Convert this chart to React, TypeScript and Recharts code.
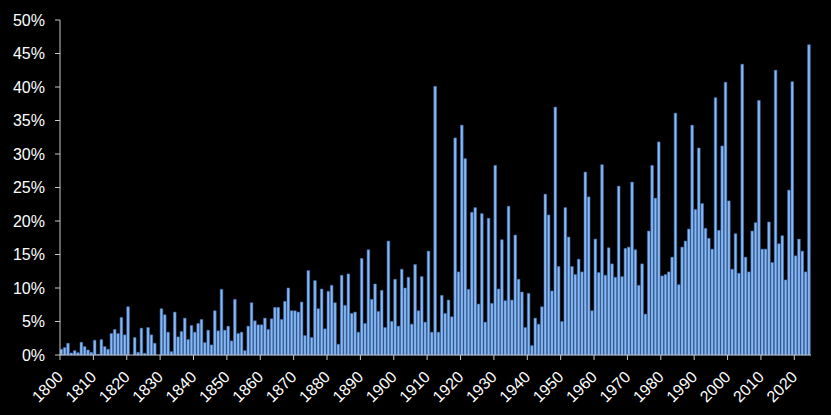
import { Bar, BarChart, XAxis, YAxis } from 'recharts'

const startYear = 1800

// one value per year, 1800 .. 2024 (percent)
const shares = [
  0.85, 1.1, 1.75, 0.3, 0.65, 0.35, 1.9, 1.25, 0.75, 0.4,
  2.2, 0.1, 2.3, 1.25, 0.85, 3.2, 3.8, 3.2, 5.6, 3.0,
  7.2, 0, 2.6, 0.4, 4.0, 0.25, 4.1, 3.0, 1.75, 0,
  6.9, 6.0, 3.4, 0.5, 6.4, 2.7, 3.5, 5.5, 2.3, 4.4,
  3.4, 4.7, 5.3, 1.85, 3.7, 1.5, 6.6, 3.6, 9.8, 3.7,
  4.3, 2.1, 8.3, 3.2, 3.4, 0.65, 4.3, 7.8, 5.1, 4.5,
  4.5, 5.5, 3.8, 5.4, 7.1, 7.1, 5.3, 8.0, 10.0, 6.6,
  6.6, 6.4, 7.9, 2.9, 12.6, 2.6, 11.1, 6.9, 9.85, 3.9,
  9.5, 10.4, 7.8, 1.6, 11.9, 7.4, 12.1, 6.2, 6.4, 3.4,
  14.4, 4.7, 15.7, 8.3, 10.6, 6.5, 9.65, 4.1, 17.0, 5.0,
  11.3, 4.3, 12.8, 10.0, 11.6, 4.6, 13.5, 6.6, 11.7, 4.9,
  15.5, 3.4, 40.1, 3.4, 8.9, 6.2, 8.2, 5.7, 32.4, 12.4,
  34.3, 29.3, 9.8, 21.3, 22.0, 7.6, 21.1, 4.9, 20.4, 7.7,
  28.3, 9.85, 17.2, 8.1, 22.2, 8.2, 17.9, 11.3, 9.4, 4.1,
  9.2, 1.4, 5.5, 4.6, 7.2, 24.0, 20.9, 9.55, 37.0, 13.2,
  5.0, 22.0, 17.6, 13.2, 12.0, 14.3, 12.4, 27.3, 23.6, 6.6,
  17.3, 12.3, 28.4, 11.9, 16.0, 13.6, 11.6, 25.2, 11.7, 15.9,
  16.1, 25.8, 15.7, 10.4, 13.6, 6.1, 18.5, 28.3, 23.4, 31.8,
  11.8, 12.0, 12.4, 14.6, 36.1, 10.5, 16.1, 17.0, 18.8, 34.3,
  21.7, 30.9, 22.6, 18.9, 17.4, 15.8, 38.4, 18.6, 31.2, 40.7,
  23.0, 12.8, 18.1, 12.2, 43.4, 14.6, 12.4, 18.5, 19.75, 38.0,
  15.8, 15.8, 19.85, 13.8, 42.5, 16.6, 17.8, 11.2, 24.6, 40.8,
  14.8, 17.3, 15.5, 12.4, 46.3,
]

const yTicks = [0, 5, 10, 15, 20, 25, 30, 35, 40, 45, 50]
const xTicks = [
  1800, 1810, 1820, 1830, 1840, 1850, 1860, 1870, 1880, 1890, 1900, 1910,
  1920, 1930, 1940, 1950, 1960, 1970, 1980, 1990, 2000, 2010, 2020,
]

// bars sit in the middle of each year slot, ticks on the slot edges
const data = shares.map((v, i) => ({ year: startYear + i + 0.5, value: v }))

const font = '"Liberation Sans", Arial, sans-serif'

function YearTick(props: any) {
  const { x, y, payload } = props
  const tx = x + 4
  const ty = y + 16
  return (
    <text
      x={tx}
      y={ty}
      transform={`rotate(-45, ${tx}, ${ty})`}
      textAnchor='end'
      fill='#ffffff'
      fontSize={16}
      fontFamily={font}
    >
      {payload.value}
    </text>
  )
}

export default function App() {
  return (
    <div
      style={{
        position: 'absolute',
        left: 0,
        top: 0,
        width: 831,
        height: 415,
        background: '#000000',
      }}
    >
      <BarChart
        width={831}
        height={415}
        data={data}
        margin={{ top: 20, right: 20, bottom: 0, left: 0 }}
      >
        <XAxis
          dataKey='year'
          type='number'
          domain={[1800, 2025]}
          ticks={xTicks}
          interval={0}
          height={60}
          stroke='#c8c8c8'
          tickSize={5}
          tick={<YearTick />}
          allowDataOverflow
        />
        <YAxis
          domain={[0, 50]}
          ticks={yTicks}
          width={60}
          stroke='#c8c8c8'
          tickSize={5}
          tickMargin={10}
          tickFormatter={(v) => `${v}%`}
          tick={{ fill: '#ffffff', fontSize: 16, fontFamily: font }}
        />
        <Bar
          dataKey='value'
          barSize={2.6}
          fill='#88b9f2'
          stroke='#3f70b8'
          strokeWidth={0.6}
          isAnimationActive={false}
        />
      </BarChart>
    </div>
  )
}
